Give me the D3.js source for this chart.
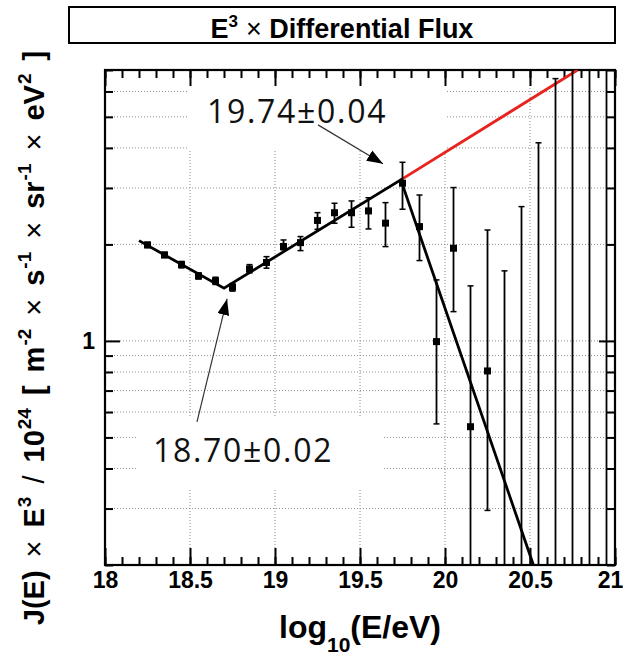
<!DOCTYPE html>
<html>
<head>
<meta charset="utf-8">
<script src="https://cdn.jsdelivr.net/npm/d3@7"></script>
<style>
  body { margin: 0; background: #fff; }
  svg { display: block; }
  .axis text { font-family: "Liberation Sans", Arial, sans-serif; font-weight: bold; font-size: 23px; fill: #000; }
  .axis line { stroke: #000; stroke-width: 2; }
  .grid line { stroke: #8c8c8c; stroke-width: 1; stroke-dasharray: 1,2; }
</style>
</head>
<body>
<div id="chart"></div>
<script>
const WIDTH = 625, HEIGHT = 655;
const FRAME = {left: 105, right: 615, top: 70, bottom: 565};

// measured points: log10(E/eV) bin centre, E^3 J(E) / 1e24 and its error band
const energy = [18.25, 18.35, 18.45, 18.55, 18.65, 18.75, 18.85, 18.95, 19.05, 19.15,
                19.25, 19.35, 19.45, 19.55, 19.65, 19.75, 19.85, 19.95, 20.05, 20.15, 20.25];
const flux   = [1.993, 1.854, 1.730, 1.595, 1.539, 1.469, 1.677, 1.757, 1.971, 2.026,
                2.376, 2.511, 2.511, 2.544, 2.330, 3.104, 2.273, 0.995, 1.946, 0.540, 0.806];
const fluxHi = [2.03, 1.89, 1.77, 1.63, 1.58, 1.51, 1.73, 1.832, 2.065, 2.116,
                2.513, 2.688, 2.733, 2.797, 2.70, 3.608, 2.852, 1.55, 3.009, 1.485, 2.218];
const fluxLo = [1.955, 1.82, 1.69, 1.56, 1.50, 1.43, 1.63, 1.686, 1.923, 1.913,
                2.229, 2.329, 2.262, 2.235, 1.969, 2.575, 1.781, 0.551, 1.234, null, 0.296];

// empty bins: only the upper end of the error bar is shown
const limitEnergy = [20.35, 20.45, 20.55, 20.65, 20.75, 20.85, 20.95];
const limitHi     = [1.654, 2.624, 4.15, 6.58, 9.5, 11, 13];

// broken power law fit and its extrapolation
const fitEnergy    = [18.20, 18.70, 19.74, 20.52];
const fitFlux      = [2.055, 1.46, 3.18, 0.20];
const extrapEnergy = [19.74, 20.78];
const extrapFlux   = [3.18, 7.0];

const xTickLabels = [18, 18.5, 19, 19.5, 20, 20.5, 21];
const yMajorTicks = [1];
const yMinorTicks = [0.2, 0.3, 0.4, 0.5, 0.6, 0.7, 0.8, 0.9, 2, 3, 4, 5, 6, 7];
const xGrid = [18.5, 19, 19.5, 20, 20.5];
const yGrid = [0.3, 0.4, 0.5, 0.6, 0.7, 0.8, 0.9, 1, 2, 3, 4, 5, 6];

const svg = d3.select("#chart").append("svg")
  .attr("width", WIDTH).attr("height", HEIGHT);

const X_SCALE = d3.scaleLinear().domain([18, 21]).range([FRAME.left, FRAME.right]);
const Y_SCALE = d3.scaleLog().domain([0.2, 7]).range([FRAME.bottom, FRAME.top]);

svg.append("defs").append("clipPath").attr("id", "frame-clip")
  .append("rect")
    .attr("x", FRAME.left).attr("y", FRAME.top)
    .attr("width", FRAME.right - FRAME.left).attr("height", FRAME.bottom - FRAME.top);

// grid
const grid = svg.append("g").attr("class", "grid");
grid.selectAll(".vg").data(xGrid).enter().append("line")
  .attr("x1", d => X_SCALE(d)).attr("x2", d => X_SCALE(d))
  .attr("y1", FRAME.top).attr("y2", FRAME.bottom);
grid.selectAll(".hg").data(yGrid).enter().append("line")
  .attr("x1", FRAME.left).attr("x2", FRAME.right)
  .attr("y1", d => Y_SCALE(d)).attr("y2", d => Y_SCALE(d));

// white patches behind the two labels (they hide the grid there)
const patches = [
  {x0: 18.494, x1: 20.012, y0: 3.94, y1: 7},
  {x0: 18.188, x1: 19.635, y0: 0.343, y1: 0.575}
];
svg.selectAll(".patch").data(patches).enter().append("rect")
  .attr("x", d => X_SCALE(d.x0)).attr("y", d => Y_SCALE(d.y1))
  .attr("width", d => X_SCALE(d.x1) - X_SCALE(d.x0))
  .attr("height", d => Y_SCALE(d.y0) - Y_SCALE(d.y1))
  .attr("fill", "#fff");

// axes, ticks pointing inwards
function styleAxis(g) { g.select(".domain").remove(); }

svg.append("g").attr("class", "axis")
  .attr("transform", "translate(0," + FRAME.bottom + ")")
  .call(d3.axisBottom(X_SCALE).tickValues(X_SCALE.ticks(30)).tickSize(-8).tickFormat(""))
  .call(styleAxis);
const xLab = svg.append("g").attr("class", "axis")
  .attr("transform", "translate(0," + FRAME.bottom + ")")
  .call(d3.axisBottom(X_SCALE).tickValues(xTickLabels).tickSize(-17).tickPadding(7)
        .tickFormat(d3.format("")))
  .call(styleAxis);
xLab.selectAll(".tick text").filter(d => d === 21).attr("dx", -5);

svg.append("g").attr("class", "axis")
  .attr("transform", "translate(0," + FRAME.top + ")")
  .call(d3.axisTop(X_SCALE).tickValues(X_SCALE.ticks(30)).tickSize(-8).tickFormat(""))
  .call(styleAxis);
svg.append("g").attr("class", "axis")
  .attr("transform", "translate(0," + FRAME.top + ")")
  .call(d3.axisTop(X_SCALE).tickValues(xTickLabels).tickSize(-16).tickFormat(""))
  .call(styleAxis);

svg.append("g").attr("class", "axis")
  .attr("transform", "translate(" + FRAME.left + ",0)")
  .call(d3.axisLeft(Y_SCALE).tickValues(yMinorTicks).tickSize(-8).tickFormat(""))
  .call(styleAxis);
svg.append("g").attr("class", "axis")
  .attr("transform", "translate(" + FRAME.left + ",0)")
  .call(d3.axisLeft(Y_SCALE).tickValues(yMajorTicks).tickSize(-15).tickPadding(10)
        .tickFormat(d3.format("")))
  .call(styleAxis);
svg.append("g").attr("class", "axis")
  .attr("transform", "translate(" + FRAME.right + ",0)")
  .call(d3.axisRight(Y_SCALE).tickValues(yMinorTicks).tickSize(-8).tickFormat(""))
  .call(styleAxis);
svg.append("g").attr("class", "axis")
  .attr("transform", "translate(" + FRAME.right + ",0)")
  .call(d3.axisRight(Y_SCALE).tickValues(yMajorTicks).tickSize(-16).tickFormat(""))
  .call(styleAxis);

svg.append("rect")
  .attr("x", FRAME.left).attr("y", FRAME.top)
  .attr("width", FRAME.right - FRAME.left).attr("height", FRAME.bottom - FRAME.top)
  .attr("fill", "none").attr("stroke", "#000").attr("stroke-width", 2.2);

// data layer
const plot = svg.append("g").attr("clip-path", "url(#frame-clip)");
const line = d3.line().x(d => X_SCALE(d[0])).y(d => Y_SCALE(d[1]));

plot.append("path")
  .datum(d3.zip(extrapEnergy, extrapFlux))
  .attr("d", line).attr("fill", "none")
  .attr("stroke", "#e8231e").attr("stroke-width", 2.8);

plot.append("path")
  .datum(d3.zip(fitEnergy, fitFlux))
  .attr("d", line).attr("fill", "none")
  .attr("stroke", "#000").attr("stroke-width", 2.8);

const points = energy.map((e, i) => ({e: e, v: flux[i], hi: fluxHi[i], lo: fluxLo[i]}));
const limits = limitEnergy.map((e, i) => ({e: e, v: null, hi: limitHi[i], lo: null}));
const bars = points.concat(limits);
const CAP = 3;

plot.selectAll(".err").data(bars).enter().append("line")
  .attr("x1", d => X_SCALE(d.e)).attr("x2", d => X_SCALE(d.e))
  .attr("y1", d => Y_SCALE(d.hi))
  .attr("y2", d => d.lo === null ? FRAME.bottom : Y_SCALE(d.lo))
  .attr("stroke", "#000").attr("stroke-width", 1.8);
plot.selectAll(".capHi").data(bars).enter().append("line")
  .attr("x1", d => X_SCALE(d.e) - CAP).attr("x2", d => X_SCALE(d.e) + CAP)
  .attr("y1", d => Y_SCALE(d.hi)).attr("y2", d => Y_SCALE(d.hi))
  .attr("stroke", "#000").attr("stroke-width", 1.5);
plot.selectAll(".capLo").data(bars.filter(d => d.lo !== null)).enter().append("line")
  .attr("x1", d => X_SCALE(d.e) - CAP).attr("x2", d => X_SCALE(d.e) + CAP)
  .attr("y1", d => Y_SCALE(d.lo)).attr("y2", d => Y_SCALE(d.lo))
  .attr("stroke", "#000").attr("stroke-width", 1.5);

const M = 7;
plot.selectAll(".pt").data(points).enter().append("rect")
  .attr("x", d => X_SCALE(d.e) - M / 2).attr("y", d => Y_SCALE(d.v) - M / 2)
  .attr("width", M).attr("height", M).attr("fill", "#000");

// annotations
svg.select("defs").append("marker")
  .attr("id", "head").attr("markerUnits", "userSpaceOnUse")
  .attr("viewBox", "0 0 16 12").attr("refX", 16).attr("refY", 6)
  .attr("markerWidth", 16).attr("markerHeight", 12).attr("orient", "auto")
  .append("path").attr("d", "M0,0 L16,6 L0,12 Z").attr("fill", "#000");

const notes = [
  {label: "19.74\u00B10.04", tx: 18.60, ty: 4.79, from: [19.253, 4.72], to: [19.635, 3.57]},
  {label: "18.70\u00B10.02", tx: 18.282, ty: 0.419, from: [18.541, 0.559], to: [18.718, 1.352]}
];
svg.selectAll(".arrow").data(notes).enter().append("line")
  .attr("x1", d => X_SCALE(d.from[0])).attr("y1", d => Y_SCALE(d.from[1]))
  .attr("x2", d => X_SCALE(d.to[0])).attr("y2", d => Y_SCALE(d.to[1]))
  .attr("stroke", "#333").attr("stroke-width", 1.2)
  .attr("marker-end", "url(#head)");
svg.selectAll(".note").data(notes).enter().append("text")
  .attr("x", d => X_SCALE(d.tx)).attr("y", d => Y_SCALE(d.ty))
  .attr("font-family", "'Open Sans', 'Noto Sans', sans-serif")
  .attr("font-size", 32).attr("letter-spacing", 1.7).attr("fill", "#111")
  .text(d => d.label);

// title box
svg.append("rect").attr("x", 69).attr("y", 7).attr("width", 546).attr("height", 36)
  .attr("fill", "#fff").attr("stroke", "#000").attr("stroke-width", 2);
const title = svg.append("text").attr("x", 342).attr("y", 38)
  .attr("text-anchor", "middle")
  .attr("font-family", "'Liberation Sans', Arial, sans-serif")
  .attr("font-weight", "bold").attr("font-size", 27);
title.append("tspan").text("E");
title.append("tspan").attr("font-size", 17).attr("dy", -11).text("3");
title.append("tspan").attr("dy", 11).attr("font-weight", "normal").attr("dx", 8).text("\u00D7");
title.append("tspan").text(" Differential Flux");

// x title
const xt = svg.append("text").attr("x", 360).attr("y", 638)
  .attr("text-anchor", "middle")
  .attr("font-family", "'Liberation Sans', Arial, sans-serif")
  .attr("font-weight", "bold").attr("font-size", 32);
xt.append("tspan").text("log");
xt.append("tspan").attr("font-size", 21).attr("dy", 14).text("10");
xt.append("tspan").attr("dy", -14).text("(E/eV)");

// y title
const yt = svg.append("text")
  .attr("transform", "translate(44,338) rotate(-90)")
  .attr("text-anchor", "middle")
  .attr("font-family", "'Liberation Sans', Arial, sans-serif")
  .attr("font-weight", "bold").attr("font-size", 29);
const GAP = 13;
const yParts = [
  ["J(E)", 0, 0, "bold"], ["\u00D7", GAP, 0, "normal"], ["E", GAP, 0, "bold"], ["3", 1, -13, "sup"],
  ["/", GAP, 13, "normal"], ["10", GAP, 0, "bold"], ["24", 1, -13, "sup"],
  ["[", GAP, 13, "bold"], ["m", GAP, 0, "bold"], ["-2", 1, -13, "sup"],
  ["\u00D7", GAP, 13, "normal"], ["s", GAP, 0, "bold"], ["-1", 1, -13, "sup"],
  ["\u00D7", GAP, 13, "normal"], ["sr", GAP, 0, "bold"], ["-1", 1, -13, "sup"],
  ["\u00D7", GAP, 13, "normal"], ["eV", GAP, 0, "bold"], ["2", 1, -13, "sup"],
  ["]", GAP, 13, "bold"]
];
yParts.forEach(p => {
  const t = yt.append("tspan").attr("dx", p[1]).attr("dy", p[2]).text(p[0]);
  if (p[3] === "sup") t.attr("font-size", 19);
  if (p[3] === "normal") t.attr("font-weight", "normal");
});
</script>
</body>
</html>
